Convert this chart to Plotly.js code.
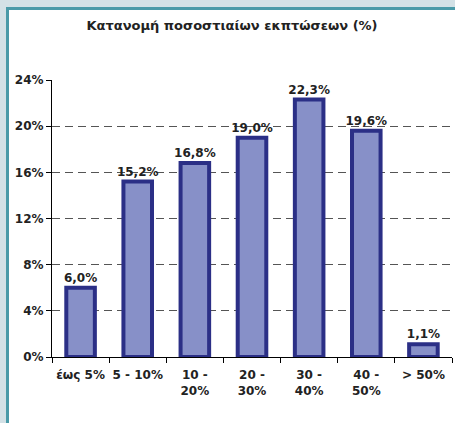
<!DOCTYPE html>
<html>
<head>
<meta charset="utf-8">
<script src="https://cdn.plot.ly/plotly-3.0.1.min.js"></script>
<style>
  html, body { margin: 0; padding: 0; background: #d3e1e6; width: 455px; height: 423px; overflow: hidden; }
  #frame { position: absolute; left: 6px; top: 7px; width: 449px; height: 416px; border-left: 3px solid #4a9aa8; border-top: 3px solid #4a9aa8; background: #ffffff; }
  #chart { width: 446px; height: 413px; }
</style>
</head>
<body>
<div id="frame"><div id="chart"></div></div>
<script>
const categories = ["έως 5%", "5 - 10%", "10 -<br>20%", "20 -<br>30%", "30 -<br>40%", "40 -<br>50%", "> 50%"];
const values = [6.0, 15.2, 16.8, 19.0, 22.3, 19.6, 1.1];
const yTicks = [0, 4, 8, 12, 16, 20, 24];
const yTickText = ["0%", "4%", "8%", "12%", "16%", "20%", "24%"];
const titleText = "Κατανομή ποσοστιαίων εκπτώσεων (%)";

const fontFam = "DejaVu Sans, Verdana, sans-serif";

const trace = {
  type: "bar",
  x: categories,
  y: values,
  width: 0.5,
  marker: { color: "#8790c8", line: { color: "#2b2f86", width: 4 } },
  texttemplate: "%{y:.1f}%",
  textposition: "outside",
  constraintext: "none",
  cliponaxis: false,
  textfont: { family: fontFam, size: 12, color: "#222222", weight: "bold" },
  hoverinfo: "none"
};

const layout = {
  width: 446, height: 413,
  margin: { l: 43, r: 3, t: 70, b: 66 },
  paper_bgcolor: "#ffffff",
  plot_bgcolor: "#ffffff",
  separators: ",.",
  showlegend: false,
  title: { text: titleText, x: 0.5, xanchor: "center", yref: "container", y: 0.962, yanchor: "middle",
           font: { family: fontFam, size: 13, color: "#222222", weight: "bold" } },
  xaxis: {
    type: "category",
    showline: true, linecolor: "#000000", linewidth: 1,
    ticks: "outside", ticklen: 5, tickcolor: "#000000", tickson: "boundaries",
    tickangle: 0,
    ticklabelstandoff: 7,
    showgrid: false,
    tickfont: { family: fontFam, size: 12, color: "#222222", weight: "bold" },
    range: [-0.5, 6.5]
  },
  yaxis: {
    range: [0, 24],
    tickmode: "array",
    tickvals: yTicks,
    ticktext: yTickText,
    showline: true, linecolor: "#000000", linewidth: 1,
    ticks: "outside", ticklen: 5, tickcolor: "#000000",
    showgrid: true, gridcolor: "#555555", griddash: "8px,5px", gridwidth: 1,
    zeroline: false,
    tickfont: { family: fontFam, size: 12, color: "#222222", weight: "bold" }
  }
};

Plotly.newPlot("chart", [trace], layout, { displayModeBar: false, staticPlot: true });
</script>
</body>
</html>
